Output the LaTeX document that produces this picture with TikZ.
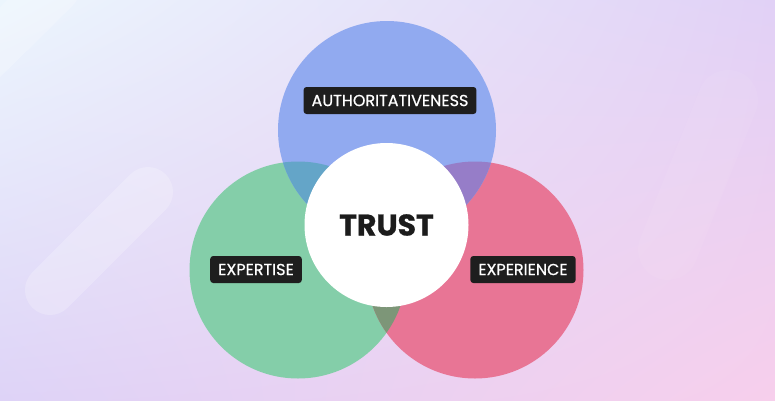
\documentclass[tikz,border=0pt]{standalone}
\usepackage{fontspec}
\setmainfont{Poppins}
\newfontfamily\tagfont{Poppins}[FakeBold=0.6]
\newfontfamily\trustfont{Poppins}[UprightFeatures={FakeBold=0}, BoldFeatures={FakeBold=0.8}]
\usepackage{tikz}
\usetikzlibrary{positioning, shadings}

\definecolor{bgtl}{HTML}{ECF6FD}
\definecolor{bgtr}{HTML}{E1D1F6}
\definecolor{bgbl}{HTML}{DED3F7}
\definecolor{bgbr}{HTML}{F7CFEC}
\definecolor{authblue}{HTML}{91AAF0}
\definecolor{expgreen}{HTML}{84CEA9}
\definecolor{exppink}{HTML}{E87595}
\definecolor{bluegreen}{HTML}{64A5C8}
\definecolor{bluepink}{HTML}{967DC8}
\definecolor{greenpink}{HTML}{7D9678}
\definecolor{tagdark}{HTML}{1E1E1E}
\definecolor{trustink}{HTML}{1C1C1C}

\begin{document}
\begin{tikzpicture}[x=1pt, y=-1pt,
  petal/.style={circle, inner sep=0pt, minimum size=217pt},
  tag/.style={fill=tagdark, text=white, rounded corners=3pt, inner xsep=8pt,
    minimum height=27pt, font=\tagfont\fontsize{16}{16}\selectfont},
  glow/.style={white, line cap=round}]
  \useasboundingbox (0,0) rectangle (775,400);

  % Background
  \shade[upper left=bgtl, upper right=bgtr, lower left=bgbl, lower right=bgbr]
    (0,0) rectangle (775,400);
  \draw[glow, line width=50pt, opacity=0.22] (50,290) -- (148,192);
  \draw[glow, line width=50pt, opacity=0.2] (-20,62) -- (55,-12);
  \draw[glow, line width=60pt, opacity=0.06] (728,100) -- (668,250);

  % Circles
  \node[petal, fill=expgreen] (expertise) at (298,270) {};
  \node[petal, fill=exppink] (experience) at (475,270) {};
  \node[petal, fill=authblue, minimum size=218pt] (authority) at (387,130) {};

  % Overlaps
  \begin{scope}
    \clip (authority.center) circle[radius=109pt];
    \fill[bluegreen] (expertise.center) circle[radius=108.5pt];
    \fill[bluepink] (experience.center) circle[radius=108.5pt];
  \end{scope}
  \begin{scope}
    \clip (expertise.center) circle[radius=108.5pt];
    \fill[greenpink] (experience.center) circle[radius=108.5pt];
  \end{scope}

  % Centre
  \node[circle, fill=white, inner sep=0pt, minimum size=164pt, text=trustink,
    font=\trustfont\bfseries\fontsize{30}{30}\selectfont] (trust) at (386.5,225) {TRUST};

  % Labels
  \node[tag] (authtag) at (390,100.5) {AUTHORITATIVENESS};
  \node[tag] (experttag) at (256,269.5) {EXPERTISE};
  \node[tag] (expertag) at (523,269.5) {EXPERIENCE};
\end{tikzpicture}
\end{document}
